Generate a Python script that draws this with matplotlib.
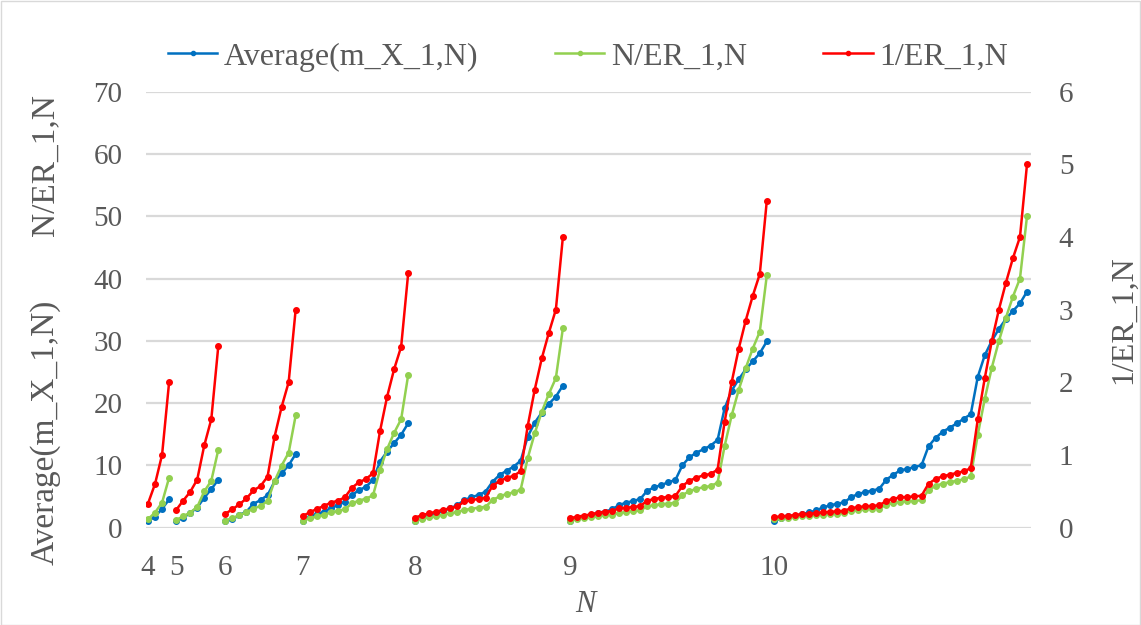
import matplotlib
matplotlib.use("Agg")
import matplotlib.pyplot as plt
from matplotlib.lines import Line2D
from matplotlib.patches import Rectangle
import numpy as np

# ---------------- data ----------------
N_values = [4, 5, 6, 7, 8, 9, 10]

avg_4 = [1.0, 1.75, 3.0, 4.5]
avg_5 = [1.0, 1.55, 2.33, 3.2, 4.8, 6.15, 7.7]
avg_6 = [1.0, 1.3, 2.0, 2.55, 3.8, 4.4, 5.2, 7.4, 8.7, 10.0, 11.8]
avg_7 = [1.0, 1.75, 2.15, 2.55, 3.1, 3.6, 4.15, 5.2, 6.0, 6.55, 7.65, 10.6, 12.2, 13.55, 14.9, 16.75]
avg_8 = [1.05, 1.48, 1.85, 2.28, 2.7, 3.09, 3.62, 4.42, 4.86, 5.23, 5.76, 7.36, 8.44, 9.13, 9.78, 10.74,
         14.6, 16.85, 18.46, 19.86, 21.03, 22.8]
avg_9 = [1.05, 1.48, 1.74, 2.0, 2.38, 2.54, 2.93, 3.62, 3.99, 4.26, 4.58, 5.92, 6.46, 6.83, 7.27, 7.64,
         10.0, 11.29, 12.03, 12.57, 13.15, 14.07, 19.16, 22.0, 23.8, 25.4, 26.7, 28.0, 29.9]
avg_10 = [1.0, 1.51, 1.77, 1.88, 2.15, 2.42, 2.74, 3.23, 3.55, 3.82, 4.03, 4.89, 5.38, 5.7, 5.91, 6.24,
          7.69, 8.49, 9.19, 9.41, 9.73, 10.0, 13.06, 14.4, 15.38, 16.02, 16.72, 17.47, 18.2,
          24.2, 27.7, 30.0, 31.9, 33.5, 34.8, 36.0, 37.9]

ner_4 = [1.33, 2.4, 4.0, 8.0]
ner_5 = [1.2, 1.8, 2.4, 3.3, 5.8, 7.5, 12.5]
ner_6 = [1.1, 1.55, 1.95, 2.45, 3.05, 3.45, 4.25, 7.45, 9.95, 12.0, 18.0]
ner_7 = [1.1, 1.47, 1.77, 2.03, 2.42, 2.64, 2.94, 3.87, 4.33, 4.63, 5.17, 9.27, 12.6, 15.2, 17.4, 24.5]
ner_8 = [1.12, 1.4, 1.65, 1.85, 2.08, 2.27, 2.5, 2.83, 3.0, 3.18, 3.33, 4.4, 5.0, 5.38, 5.64, 6.1,
         11.15, 15.15, 18.6, 21.45, 24.0, 32.0]
ner_9 = [1.1, 1.32, 1.48, 1.64, 1.82, 1.96, 2.08, 2.33, 2.5, 2.62, 2.74, 3.4, 3.58, 3.74, 3.84, 4.0,
         5.2, 5.86, 6.2, 6.47, 6.65, 7.2, 13.1, 18.0, 22.1, 25.6, 28.75, 31.45, 40.5]
ner_10 = [1.3, 1.45, 1.58, 1.7, 1.83, 1.89, 1.98, 2.07, 2.17, 2.21, 2.3, 2.67, 2.81, 2.91, 2.99, 3.04,
          3.69, 3.96, 4.15, 4.19, 4.29, 4.37, 6.03, 6.69, 7.05, 7.28, 7.51, 7.74, 8.2,
          14.9, 20.7, 25.7, 29.95, 33.7, 37.1, 40.0, 50.0]

iner_4 = [0.33, 0.6, 1.0, 2.0]
iner_5 = [0.24, 0.37, 0.49, 0.66, 1.13, 1.49, 2.5]
iner_6 = [0.19, 0.25, 0.32, 0.40, 0.51, 0.57, 0.70, 1.25, 1.66, 2.0, 3.0]
iner_7 = [0.158, 0.209, 0.255, 0.296, 0.342, 0.369, 0.416, 0.548, 0.623, 0.668, 0.747, 1.33, 1.80,
          2.18, 2.49, 3.5]
iner_8 = [0.137, 0.17, 0.195, 0.218, 0.246, 0.264, 0.29, 0.36, 0.375, 0.395, 0.41, 0.574, 0.638,
          0.685, 0.71, 0.776, 1.40, 1.90, 2.33, 2.68, 3.0, 4.0]
iner_9 = [0.127, 0.149, 0.163, 0.182, 0.204, 0.218, 0.227, 0.265, 0.273, 0.282, 0.296, 0.369, 0.393,
          0.411, 0.42, 0.434, 0.572, 0.645, 0.686, 0.719, 0.737, 0.796, 1.455, 2.0, 2.46, 2.85, 3.19,
          3.49, 4.5]
iner_10 = [0.143, 0.152, 0.161, 0.171, 0.184, 0.189, 0.198, 0.207, 0.217, 0.221, 0.23, 0.267, 0.281,
           0.291, 0.299, 0.304, 0.369, 0.396, 0.415, 0.419, 0.429, 0.437, 0.603, 0.669, 0.705, 0.728,
           0.751, 0.774, 0.816, 1.49, 2.06, 2.57, 3.0, 3.37, 3.71, 4.0, 5.0]

avg_groups = [avg_4, avg_5, avg_6, avg_7, avg_8, avg_9, avg_10]
ner_groups = [ner_4, ner_5, ner_6, ner_7, ner_8, ner_9, ner_10]
iner_groups = [iner_4, iner_5, iner_6, iner_7, iner_8, iner_9, iner_10]

left_ticks = [0, 10, 20, 30, 40, 50, 60, 70]
right_ticks = [0, 1, 2, 3, 4, 5, 6]

# ---------------- style ----------------
C_BLUE = "#0070C0"
C_GREEN = "#92D050"
C_RED = "#FF0000"
C_TEXT = "#595959"
C_GRID = "#D9D9D9"
FONT = "Liberation Serif"
FS = 21
FS_TITLE = 24
FS_LEG = 23

plt.rcParams["font.family"] = [FONT, "DejaVu Serif"]

W, H = 1141, 625
fig = plt.figure(figsize=(W / 100, H / 100), dpi=100)
fig.patches.append(Rectangle((0.5 / W, 0.5 / H), 1 - 1.5 / W, 1 - 1.5 / H, transform=fig.transFigure,
                             fill=False, edgecolor=C_GRID, linewidth=1.0))

ax_l, ax_r, ax_top, ax_bot = 146, 1031, 91.8, 527.5
ax = fig.add_axes([ax_l / W, 1 - ax_bot / H, (ax_r - ax_l) / W, (ax_bot - ax_top) / H])
ax2 = ax.twinx()

# x positions
starts = []
pos = 0
xs_groups = []
for g in avg_groups:
    starts.append(pos)
    xs_groups.append(np.arange(pos, pos + len(g)))
    pos += len(g)
total = pos
step_px = (1027 - 148) / (total - 1)
xlo = -(148 - ax_l) / step_px
xhi = (total - 1) + (ax_r - 1027) / step_px

lw = 1.8
ms = 4.0
for xs, a, n in zip(xs_groups, avg_groups, ner_groups):
    ax.plot(xs, a, color=C_BLUE, lw=lw, marker="o", ms=ms, zorder=3)
    ax.plot(xs, n, color=C_GREEN, lw=lw, marker="o", ms=ms, zorder=4)
for xs, r in zip(xs_groups, iner_groups):
    ax2.plot(xs, r, color=C_RED, lw=lw, marker="o", ms=ms, zorder=5)

ax.set_xlim(xlo, xhi)
ax.set_ylim(0, 70)
ax2.set_ylim(0, 6)
ax.set_yticks(left_ticks)
ax2.set_yticks(right_ticks)
ax.set_xticks(starts)
ax.set_xticklabels([str(n) for n in N_values])

ax.yaxis.grid(True, color=C_GRID, lw=1.6)
ax.set_axisbelow(True)
for a in (ax, ax2):
    for s in a.spines.values():
        s.set_visible(False)
    a.tick_params(length=0, labelsize=FS, labelcolor=C_TEXT)
ax.tick_params(axis="y", pad=17)
ax.tick_params(axis="x", pad=20)
ax2.tick_params(axis="y", pad=20)
for lab in ax.get_xticklabels() + ax.get_yticklabels() + ax2.get_yticklabels():
    lab.set_fontfamily(FONT)

# axis titles
fig.text(45 / W, 1 - 165 / H, "N/ER_1,N", rotation=90, ha="center", va="center",
         fontsize=FS_TITLE, color=C_TEXT, family=FONT)
fig.text(45 / W, 1 - 432 / H, "Average(m_X_1,N)", rotation=90, ha="center", va="center",
         fontsize=FS_TITLE, color=C_TEXT, family=FONT)
fig.text(1124 / W, 1 - 320 / H, "1/ER_1,N", rotation=90, ha="center", va="center",
         fontsize=FS_TITLE - 1, color=C_TEXT, family=FONT)
fig.text(585 / W, 1 - 604 / H, "N", ha="center", va="center", fontsize=FS + 1,
         color=C_TEXT, family=FONT, style="italic")

# legend
handles = [Line2D([], [], color=C_BLUE, lw=lw, marker="o", ms=3),
           Line2D([], [], color=C_GREEN, lw=lw, marker="o", ms=3),
           Line2D([], [], color=C_RED, lw=lw, marker="o", ms=3)]
labels = ["Average(m_X_1,N)", "N/ER_1,N", "1/ER_1,N"]
leg = fig.legend(handles, labels, loc="center", bbox_to_anchor=(588 / W, 1 - 57 / H), ncol=3,
                 frameon=False, handlelength=1.55, handletextpad=0.2,
                 columnspacing=2.4, prop={"family": FONT, "size": FS_LEG})
for t in leg.get_texts():
    t.set_color(C_TEXT)

fig.savefig("out.png", dpi=100)
